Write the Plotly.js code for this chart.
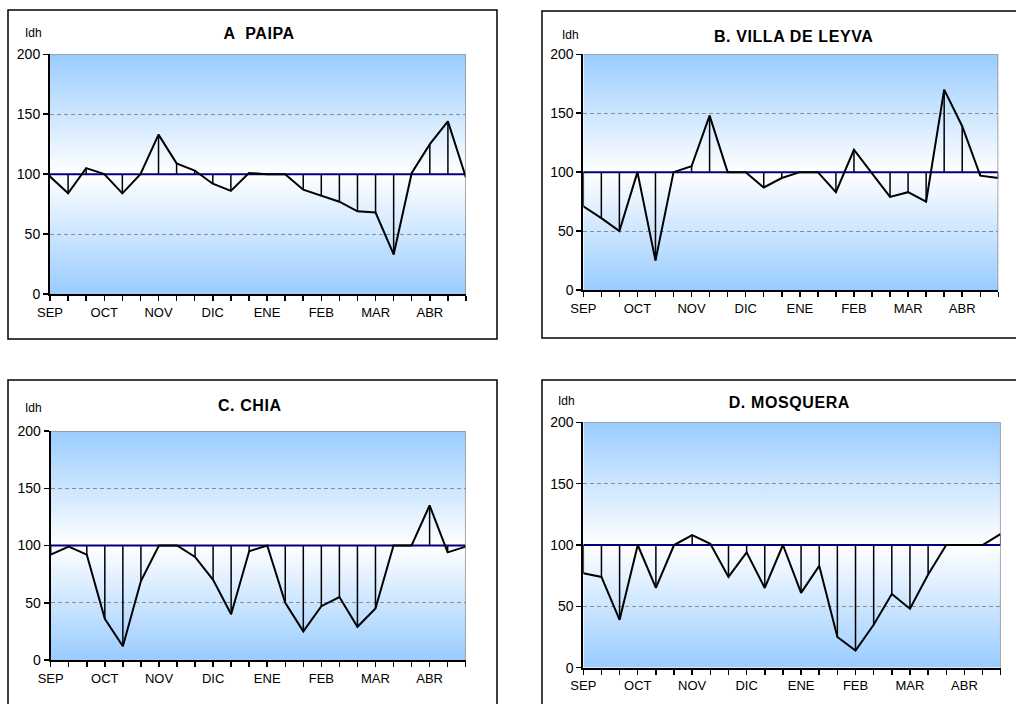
<!DOCTYPE html>
<html>
<head>
<meta charset="utf-8">
<script src="https://cdn.plot.ly/plotly-3.0.1.min.js"></script>
<style>
  html, body { margin: 0; padding: 0; background: #fff; }
  #chart { width: 1016px; height: 704px; }
</style>
</head>
<body>
<div id="chart"></div>
<script>
// ---- Data (Idh, 3 decades per month, SEP..ABR) ----
const months = ['SEP', 'OCT', 'NOV', 'DIC', 'ENE', 'FEB', 'MAR', 'ABR'];
const decadesPerMonth = 3;
const reference = 100;

const paipa        = [98, 84, 105, 100, 84, 100, 133, 109, 103, 92, 86, 101, 100, 100, 87, 82, 77, 69, 68, 33, 101, 125, 144, 97];
const villaDeLeyva = [71, 61, 50, 100, 25, 100, 105, 148, 100, 100, 87, 95, 100, 100, 83, 119, 99, 79, 83, 75, 170, 139, 97, 95];
const chia         = [92, 99, 92, 36, 12, 69, 100, 100, 90, 70, 40, 95, 100, 50, 25, 47, 55, 29, 45, 100, 100, 135, 94, 99];
const mosquera     = [77, 74, 39, 100, 65, 100, 108, 101, 74, 94, 65, 100, 61, 83, 25, 14, 35, 60, 48, 76, 100, 100, 100, 109];

const panelTitles = ['A  PAIPA', 'B. VILLA DE LEYVA', 'C. CHIA', 'D. MOSQUERA'];
const panelSeries = [paipa, villaDeLeyva, chia, mosquera];
const yTicks = [0, 50, 100, 150, 200];
const yLabel = 'Idh';

// ---- Layout geometry (pixels in a 1016x704 page) ----
const W = 1016, H = 704;
const plotBoxes = [
  { l: 50,    r: 466,    t: 54.3, b: 294 },
  { l: 583.3, r: 998.3,  t: 54.3, b: 290 },
  { l: 50.7,  r: 465.7,  t: 431,  b: 660 },
  { l: 583.3, r: 1000.7, t: 422.3, b: 667.7 }
];
const frames = [
  { l: 8,   r: 497,  t: 10,  b: 339 },
  { l: 542, r: 1030, t: 11,  b: 338 },
  { l: 8,   r: 497,  t: 380, b: 720 },
  { l: 542, r: 1030, t: 380, b: 720 }
];
const titlePos = [ [259, 33], [794, 36], [250, 405], [789, 403] ];
const labelPos = [ [33, 33], [570, 35], [33, 408], [566, 401] ];

const FONT = 'Liberation Sans, Arial, sans-serif';

const gradSvg = '<svg xmlns="http://www.w3.org/2000/svg" width="100" height="100" viewBox="0 0 100 100" preserveAspectRatio="none">' +
  '<defs><linearGradient id="g" x1="0" y1="0" x2="0" y2="1">' +
  '<stop offset="0" stop-color="#99ccff"/><stop offset="0.5" stop-color="#ffffff"/><stop offset="1" stop-color="#99ccff"/>' +
  '</linearGradient></defs><rect x="0" y="0" width="100" height="100" fill="url(#g)"/></svg>';
const gradUri = 'data:image/svg+xml;charset=utf-8,' + encodeURIComponent(gradSvg);

const nPts = months.length * decadesPerMonth;
const xIdx = Array.from({ length: nPts }, (_, i) => i);
const tickText = xIdx.map(i => (i % decadesPerMonth === 0 ? months[i / decadesPerMonth] : ''));

const traces = [];
const layout = {
  width: W, height: H,
  margin: { l: 0, r: 0, t: 0, b: 0 },
  paper_bgcolor: '#ffffff',
  plot_bgcolor: 'rgba(0,0,0,0)',
  showlegend: false,
  font: { family: FONT, color: '#000' },
  shapes: [], annotations: [], images: []
};

panelSeries.forEach((vals, k) => {
  const n = k === 0 ? '' : String(k + 1);
  const xa = 'x' + n, ya = 'y' + n;
  const box = plotBoxes[k];

  // drop lines from each value to the reference
  const dx = [], dy = [];
  vals.forEach((v, i) => { dx.push(i, i, null); dy.push(v, reference, null); });
  traces.push({ x: dx, y: dy, xaxis: xa, yaxis: ya, mode: 'lines', type: 'scatter',
    line: { color: '#000', width: 1.5 }, hoverinfo: 'skip' });
  // reference line
  traces.push({ x: xIdx, y: xIdx.map(() => reference), xaxis: xa, yaxis: ya, mode: 'lines', type: 'scatter',
    line: { color: '#000080', width: 2 }, hoverinfo: 'skip' });
  // series line
  traces.push({ x: xIdx, y: vals, xaxis: xa, yaxis: ya, mode: 'lines', type: 'scatter',
    line: { color: '#000', width: 2 }, name: panelTitles[k] });

  layout['xaxis' + n] = {
    domain: [box.l / W, box.r / W], anchor: ya,
    range: [0, nPts - 1], tickmode: 'array', tickvals: xIdx, ticktext: tickText,
    ticks: 'outside', ticklen: 5, tickwidth: 1.5, tickcolor: '#000',
    showline: true, linecolor: '#000', linewidth: 2,
    showgrid: false, zeroline: false,
    tickfont: { family: FONT, size: 13, color: '#000' }, fixedrange: true
  };
  layout['yaxis' + n] = {
    domain: [1 - box.b / H, 1 - box.t / H], anchor: xa,
    range: [0, 200], tickmode: 'array', tickvals: yTicks,
    ticks: 'outside', ticklen: 5, tickwidth: 1.5, tickcolor: '#000',
    showline: true, linecolor: '#000', linewidth: 2,
    showgrid: true, gridcolor: '#8c8c8c', gridwidth: 1, griddash: '4px,3px',
    zeroline: false,
    tickfont: { family: FONT, size: 14, color: '#000' }, fixedrange: true
  };

  layout.images.push({ source: gradUri, xref: xa, yref: ya, x: 0, y: 200, sizex: nPts - 1, sizey: 200,
    xanchor: 'left', yanchor: 'top', sizing: 'stretch', layer: 'below' });

  layout.shapes.push({ type: 'line', xref: xa, yref: ya, x0: 0, x1: nPts - 1, y0: 200, y1: 200,
    line: { color: '#8c8c8c', width: 1.5 }, layer: 'above' });
  layout.shapes.push({ type: 'line', xref: xa, yref: ya, x0: nPts - 1, x1: nPts - 1, y0: 0, y1: 200,
    line: { color: '#8c8c8c', width: 1.5 }, layer: 'above' });

  const f = frames[k];
  layout.shapes.push({ type: 'rect', xref: 'paper', yref: 'paper',
    x0: f.l / W, x1: f.r / W, y0: 1 - f.b / H, y1: 1 - f.t / H,
    line: { color: '#000', width: 1.5 }, fillcolor: 'rgba(0,0,0,0)' });

  layout.annotations.push({ text: '<b>' + panelTitles[k] + '</b>', xref: 'paper', yref: 'paper',
    x: titlePos[k][0] / W, y: 1 - titlePos[k][1] / H, xanchor: 'center', yanchor: 'middle',
    showarrow: false, font: { family: FONT, size: 16, color: '#000' } });
  layout.annotations.push({ text: yLabel, xref: 'paper', yref: 'paper',
    x: labelPos[k][0] / W, y: 1 - labelPos[k][1] / H, xanchor: 'center', yanchor: 'middle',
    showarrow: false, font: { family: FONT, size: 12, color: '#000' } });
});

Plotly.newPlot('chart', traces, layout, { staticPlot: true, displayModeBar: false }).then(gd => {
  gd.querySelectorAll('.annotation-text').forEach(t => {
    if (t.querySelector('tspan') || t.innerHTML.indexOf('<b') >= 0 || t.textContent !== yLabel) {
      if (t.textContent !== yLabel) t.style.letterSpacing = '0.6px';
    }
  });
});
</script>
</body>
</html>
